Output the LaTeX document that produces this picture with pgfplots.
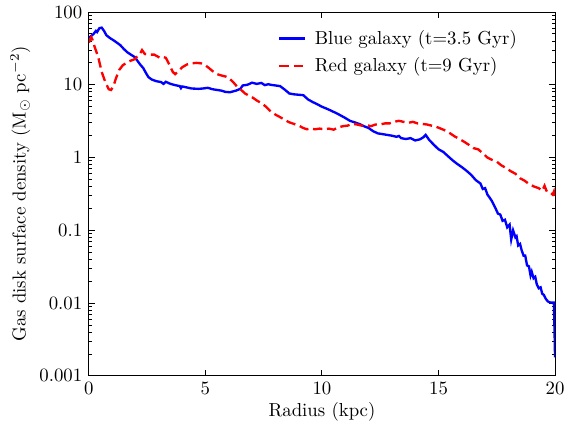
\documentclass[border=0pt]{standalone}
\usepackage{pgfplots}
\pgfplotsset{compat=1.18}
\definecolor{mblue}{RGB}{0,0,255}
\definecolor{mred}{RGB}{255,0,0}
\begin{document}
\begin{tikzpicture}
\begin{axis}[
  name=ax,
  scale only axis,
  width=248pt, height=193.6pt,
  ymode=log,
  xmin=0, xmax=20, ymin=0.001, ymax=100,
  xtick={0,5,10,15,20},
  ytick={0.001,0.01,0.1,1,10,100},
  yticklabels={0.001,0.01,0.1,1,10,100},
  minor ytick={0.002,0.003,0.004,0.005,0.006,0.007,0.008,0.009,
               0.02,0.03,0.04,0.05,0.06,0.07,0.08,0.09,
               0.2,0.3,0.4,0.5,0.6,0.7,0.8,0.9,
               2,3,4,5,6,7,8,9,20,30,40,50,60,70,80,90},
  tick align=inside,
  major tick length=3.2pt,
  minor tick length=1.7pt,
  axis line style={line width=0.55pt},
  every tick/.style={black, line width=0.5pt},
  xlabel={Radius (kpc)},
  ylabel={Gas disk surface density (M$_\odot$ pc$^{-2}$)},
  xlabel style={yshift=3pt},
  ylabel style={yshift=-2pt},
  legend cell align=left,
  legend style={draw=none, fill=none, at={(0.939,0.972)}, anchor=north east, row sep=1.5pt, font=\normalsize},
  legend image code/.code={\draw[#1] (0cm,0cm) -- (0.47cm,0cm); \path (0cm,0cm) (0.57cm,0cm);},
]
\addplot[mblue, line width=1.25pt] coordinates {
(0.0,44) (0.1,47) (0.2,50) (0.3,55) (0.35,53) (0.45,60) (0.55,61) (0.65,55) (0.75,48) (0.9,44)
(1.05,41) (1.2,38) (1.35,35) (1.5,31) (1.65,28) (1.8,26) (1.97,24) (2.1,21) (2.2,19) (2.33,17)
(2.45,14.5) (2.55,12.8) (2.7,11.8) (2.9,11.2) (3.1,10.9) (3.2,10.3) (3.3,11) (3.5,10.3) (3.7,9.9) (3.9,9.6)
(3.95,9.0) (4.0,9.5) (4.2,9.2) (4.4,8.9) (4.7,8.8) (4.9,8.9) (5.1,9.1) (5.3,8.7) (5.5,8.5) (5.7,8.3)
(5.85,8.0) (6.05,7.9) (6.3,8.3) (6.5,8.8) (6.6,9.8) (6.8,10.0) (7.0,10.7) (7.2,10.3) (7.4,10.6) (7.55,9.9)
(7.7,10.2) (7.8,10.0) (8.0,9.8) (8.2,9.6) (8.4,8.6) (8.6,7.6) (8.8,7.4) (9.0,7.3) (9.2,7.2) (9.4,6.3)
(9.6,5.8) (9.8,5.4) (10.0,5.0) (10.2,4.7) (10.4,4.4) (10.6,4.1) (10.8,3.8) (11.0,3.5) (11.2,3.2) (11.4,3.05)
(11.6,2.9) (11.8,2.7) (12.0,2.55) (12.2,2.3) (12.4,2.15) (12.6,2.1) (12.8,2.05) (13.0,2.0) (13.2,1.93) (13.3,1.98)
(13.4,1.85) (13.6,1.8) (13.8,1.85) (14.0,1.72) (14.2,1.78) (14.35,1.9) (14.45,2.05) (14.6,1.75) (14.8,1.5) (15.0,1.3)
(15.2,1.2) (15.4,1.05) (15.6,0.92) (15.8,0.82) (16.0,0.74) (16.2,0.66) (16.4,0.58) (16.6,0.49) (16.8,0.44) (16.9,0.37)
(17.0,0.38) (17.1,0.31) (17.2,0.28) (17.3,0.25) (17.45,0.2) (17.55,0.17) (17.65,0.165) (17.75,0.135) (17.85,0.14) (17.95,0.11)
(18.05,0.12) (18.12,0.075) (18.2,0.1) (18.3,0.08) (18.35,0.083) (18.42,0.062) (18.5,0.065) (18.57,0.053) (18.65,0.045) (18.72,0.045)
(18.8,0.033) (18.88,0.032) (18.95,0.024) (19.0,0.027) (19.08,0.022) (19.15,0.023) (19.22,0.018) (19.3,0.016) (19.38,0.0165) (19.45,0.0135)
(19.52,0.013) (19.6,0.0115) (19.7,0.0105) (19.8,0.0102) (19.95,0.0102) (19.98,0.004) (20.0,0.0018)
};
\addlegendentry{Blue galaxy (t=3.5 Gyr)}
\addplot[mred, line width=1.25pt, dash pattern=on 5pt off 2.5pt] coordinates {
(0.0,38) (0.1,45) (0.15,42) (0.25,33) (0.4,24) (0.55,15) (0.7,11) (0.85,8.7) (0.95,8.5) (1.05,9.5)
(1.15,12) (1.3,16) (1.45,18.5) (1.6,20) (1.8,21.5) (1.97,22.5) (2.1,25) (2.2,27) (2.28,30) (2.4,26.5)
(2.6,26) (2.8,26) (2.95,24.5) (3.05,23.4) (3.2,24) (3.3,23.5) (3.45,19) (3.6,15) (3.7,14) (3.85,15.5)
(4.0,17.4) (4.2,19) (4.4,19.7) (4.6,20) (4.8,19.8) (5.0,18.5) (5.15,17) (5.3,15.5) (5.5,14) (5.7,13.4)
(5.9,12.9) (6.05,12) (6.2,10.8) (6.35,9.5) (6.5,8.7) (6.7,7.6) (6.9,7) (7.05,6.6) (7.2,6.1) (7.4,5.6)
(7.6,5.0) (7.8,4.3) (8.0,3.9) (8.2,3.6) (8.4,3.3) (8.6,3.05) (8.8,2.9) (9.0,2.75) (9.2,2.55) (9.35,2.45)
(9.5,2.5) (9.7,2.45) (9.9,2.5) (10.1,2.45) (10.3,2.5) (10.5,2.42) (10.7,2.6) (10.9,2.7) (11.1,2.75) (11.3,2.9)
(11.5,2.85) (11.7,2.75) (11.9,2.8) (12.1,2.7) (12.3,2.85) (12.5,2.85) (12.7,2.95) (12.9,2.95) (13.1,3.1) (13.3,3.2)
(13.5,3.1) (13.7,3.0) (13.9,3.1) (14.1,2.95) (14.3,2.9) (14.5,2.85) (14.7,2.75) (14.9,2.65) (15.1,2.5) (15.3,2.35)
(15.5,2.15) (15.7,1.95) (15.9,1.8) (16.1,1.65) (16.3,1.5) (16.5,1.35) (16.7,1.3) (16.9,1.15) (17.1,1.0) (17.3,0.93)
(17.5,0.88) (17.7,0.78) (17.9,0.72) (18.1,0.65) (18.3,0.6) (18.5,0.52) (18.7,0.48) (18.9,0.43) (19.1,0.4) (19.3,0.38)
(19.45,0.35) (19.55,0.41) (19.65,0.34) (19.8,0.33) (19.9,0.31) (19.95,0.34) (20.0,0.27)
};
\addlegendentry{Red galaxy (t=9 Gyr)}
\end{axis}
\pgfresetboundingbox
\path ([shift={(-47.3pt,-25.5pt)}]ax.south west) rectangle ([shift={(5.3pt,6.4pt)}]ax.north east);
\end{tikzpicture}
\end{document}
